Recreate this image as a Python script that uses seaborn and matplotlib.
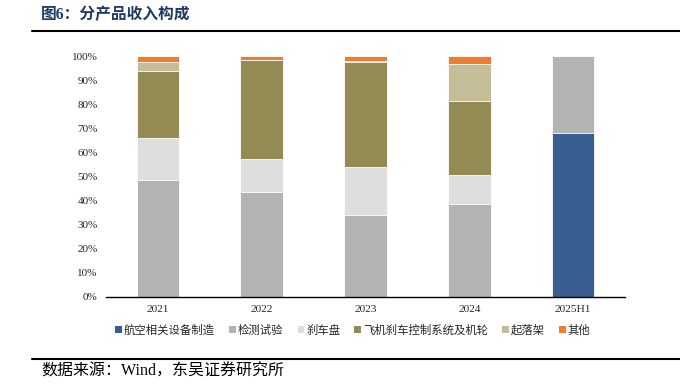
import matplotlib
matplotlib.use("Agg")
import matplotlib.pyplot as plt
import seaborn as sns
import numpy as np
from matplotlib.patches import Patch
from matplotlib.lines import Line2D

# data (% of revenue)
years = ["2021", "2022", "2023", "2024", "2025H1"]
series_names = ["航空相关设备制造", "检测试验", "刹车盘", "飞机刹车控制系统及机轮", "起落架", "其他"]
aviation = [0.0, 0.0, 0.0, 0.0, 68.1]
testing = [48.5, 43.6, 33.9, 38.5, 31.9]
brake_disc = [17.3, 13.6, 20.0, 12.2, 0.0]
brake_system = [27.8, 41.1, 43.6, 30.5, 0.0]
landing_gear = [3.8, 0.0, 0.6, 15.3, 0.0]
others = [2.6, 1.7, 1.9, 3.5, 0.0]
colors = ["#375E8F", "#B3B3B3", "#DEDEDE", "#948A54", "#C4BD97", "#ED7D31"]

sns.set_style("white")
plt.rcParams['font.family'] = ['Liberation Serif', 'Noto Sans CJK SC']
cjk = ['Noto Sans CJK SC', 'DejaVu Sans']
serif_cjk = ['Liberation Serif', 'Noto Sans CJK SC']

fig = plt.figure(figsize=(6.8, 3.89), dpi=100)
ax = fig.add_axes([106 / 680, 1 - 297 / 389, (625 - 106) / 680, (297 - 56) / 389])

stack = np.cumsum(np.array([aviation, testing, brake_disc, brake_system, landing_gear, others]), axis=0)
# draw cumulative totals from the top down so each layer shows its own segment
for i in reversed(range(len(series_names))):
    sns.barplot(x=years, y=stack[i], color=colors[i], width=0.41, saturation=1,
                edgecolor="white", linewidth=0.6, ax=ax)

ax.set_ylim(0, 100)
ax.set_xlim(-0.5, 4.5)
ax.set_yticks(np.arange(0, 101, 10))
ax.set_yticklabels([f"{v}%" for v in range(0, 101, 10)], fontsize=8)
ax.tick_params(axis="y", length=0, pad=6)
ax.tick_params(axis="x", which="major", length=0, labelsize=8.2, pad=6)
ax.set_xticks(np.arange(-0.5, 5, 1), minor=True)
ax.tick_params(axis="x", which="minor", length=4, width=0.8, color="black", direction="out")
for s in ["top", "right", "left"]:
    ax.spines[s].set_visible(False)
ax.spines["bottom"].set_color("black")
ax.spines["bottom"].set_linewidth(1)
ax.set_xlabel("")
ax.set_ylabel("")

handles = [Patch(facecolor=c, edgecolor="none") for c in colors]
fig.legend(handles, series_names, loc="center", bbox_to_anchor=(353 / 680, 1 - 330 / 389),
           ncol=6, frameon=False, handlelength=0.55, handleheight=0.55, handletextpad=0.2,
           columnspacing=1.25, borderpad=0, prop={"family": cjk, "size": 8.2})

# title, rules and source note
fig.text(41 / 680, 1 - 15 / 389, "图6：分产品收入构成", family=serif_cjk, fontsize=11.3,
         fontweight="bold", color="#1F3B64", va="center")
fig.add_artist(Line2D([32 / 680, 1], [1 - 31 / 389] * 2, color="black", lw=1.5))
fig.add_artist(Line2D([32 / 680, 1], [1 - 359 / 389] * 2, color="black", lw=1.5))
fig.text(41 / 680, 1 - 372 / 389, "数据来源：Wind，东吴证券研究所", family=serif_cjk, fontsize=11.5,
         color="black", va="center")

fig.savefig("out.png", dpi=100)
